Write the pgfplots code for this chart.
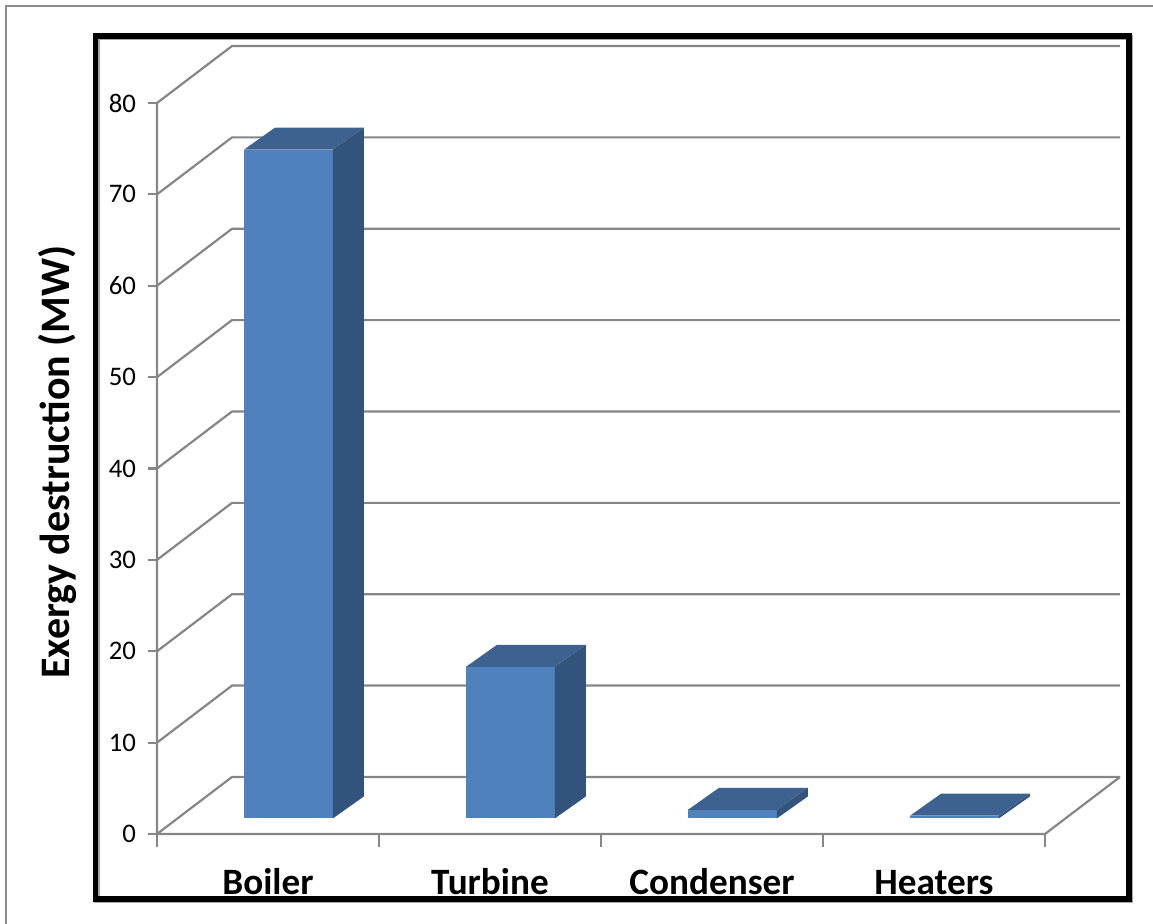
\documentclass[border=0pt]{standalone}
\usepackage{pgfplots}
\pgfplotsset{compat=1.18}
\usepackage{fontspec}
\setmainfont{Carlito}
\definecolor{barfront}{HTML}{4F81BD}
\definecolor{barside}{HTML}{32537C}
\definecolor{bartop}{HTML}{3D6290}
\definecolor{gridgray}{HTML}{868686}
\begin{document}
\begin{tikzpicture}
\path[use as bounding box] (-78.5pt,-45pt) rectangle (498pt,417pt);
% outer gray border
\draw[color=gray!90, line width=1pt] (-75.5pt,-60pt) -- (-75.5pt,414pt) -- (510pt,414pt);
% black frame with slight shadow
\draw[color=black!35, line width=2.75pt] (-30pt,-33.3pt) rectangle (486.8pt,398.2pt);
\draw[color=black, line width=2.75pt] (-30.75pt,-32.5pt) rectangle (486pt,399pt);
\node[rotate=90, font=\bfseries\fontsize{21}{25}\selectfont] at (-50pt,186pt) {Exergy destruction (MW)};
\begin{axis}[
  at={(0pt,0pt)}, anchor=south west,
  scale only axis, width=481.5pt, height=394pt,
  xmin=0, xmax=4.338, ymin=0, ymax=86.24,
  clip=false,
  axis lines=left,
  axis line style={draw=none},
  ytick={0,10,...,80},
  ytick style={color=gridgray, line width=1.1pt},
  tick align=outside,
  major tick length=4.5pt,
  yticklabel style={font=\fontsize{13.4}{16}\selectfont, xshift=-2.5pt},
  /pgf/number format/assume math mode=true,
  xtick={0.5,1.5,2.5,3.5},
  xticklabels={Boiler,Turbine,Condenser,Heaters},
  xtick style={draw=none},
  xticklabel style={font=\bfseries\fontsize{18.6}{22}\selectfont, anchor=base, yshift=-26pt},
]
% walls and floor
\pgfplotsinvokeforeach{0,10,...,80}{
  \draw[gridgray, line width=1.1pt] (axis cs:0,#1) -- (axis cs:0.338,{#1+6.24}) -- (axis cs:4.338,{#1+6.24});
}
\draw[gridgray, line width=1.1pt] (axis cs:0,80) -- (axis cs:0,0) -- (axis cs:4,0) -- (axis cs:4.338,6.24);
\pgfplotsinvokeforeach{0,1,2,3,4}{
  \draw[gridgray, line width=1.1pt] (axis cs:#1,0) -- (axis cs:#1,-1.45);
}
% Boiler 73.2
\addplot[fill=barfront, draw=none] coordinates {(0.392,1.7) (0.792,1.7) (0.792,74.9) (0.392,74.9)} -- cycle;
\addplot[fill=barside, draw=none] coordinates {(0.792,1.7) (0.932,4.11) (0.932,77.31) (0.792,74.9)} -- cycle;
\addplot[fill=bartop, draw=none] coordinates {(0.392,74.9) (0.792,74.9) (0.932,77.31) (0.532,77.31)} -- cycle;
% Turbine 16.6
\addplot[fill=barfront, draw=none] coordinates {(1.392,1.7) (1.792,1.7) (1.792,18.3) (1.392,18.3)} -- cycle;
\addplot[fill=barside, draw=none] coordinates {(1.792,1.7) (1.932,4.11) (1.932,20.71) (1.792,18.3)} -- cycle;
\addplot[fill=bartop, draw=none] coordinates {(1.392,18.3) (1.792,18.3) (1.932,20.71) (1.532,20.71)} -- cycle;
% Condenser 0.95
\addplot[fill=barfront, draw=none] coordinates {(2.392,1.7) (2.792,1.7) (2.792,2.65) (2.392,2.65)} -- cycle;
\addplot[fill=barside, draw=none] coordinates {(2.792,1.7) (2.932,4.11) (2.932,5.06) (2.792,2.65)} -- cycle;
\addplot[fill=bartop, draw=none] coordinates {(2.392,2.65) (2.792,2.65) (2.932,5.06) (2.532,5.06)} -- cycle;
% Heaters 0.3
\addplot[fill=barfront, draw=none] coordinates {(3.392,1.7) (3.792,1.7) (3.792,2.0) (3.392,2.0)} -- cycle;
\addplot[fill=barside, draw=none] coordinates {(3.792,1.7) (3.932,4.11) (3.932,4.41) (3.792,2.0)} -- cycle;
\addplot[fill=bartop, draw=none] coordinates {(3.392,2.0) (3.792,2.0) (3.932,4.41) (3.532,4.41)} -- cycle;
\end{axis}
\end{tikzpicture}
\end{document}
